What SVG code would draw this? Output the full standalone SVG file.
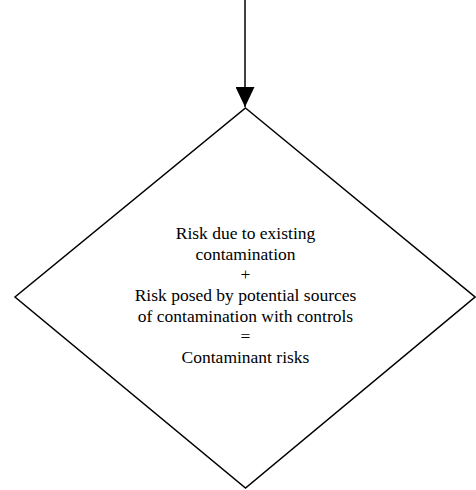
<svg xmlns="http://www.w3.org/2000/svg" width="476" height="490" viewBox="0 0 476 490">
<style>
.shape{fill:#fff;stroke:#000;stroke-width:1.5}
.lbl{font-family:"Liberation Serif","Times New Roman",serif;font-size:17.5px;fill:#000;text-anchor:middle}
.edge{stroke:#000;stroke-width:1.5;fill:none}
</style>
<defs>
<marker id="ah" markerWidth="20" markerHeight="19" refX="20" refY="9.5" orient="auto" markerUnits="userSpaceOnUse">
<path d="M0,0 L20,9.5 L0,19 Z" fill="#000"/>
</marker>
</defs>
<rect width="476" height="490" fill="#fff"/>
<g id="connectors">
<line class="edge" x1="245" y1="0" x2="245" y2="107" marker-end="url(#ah)"/>
</g>
<g id="decision">
<polygon class="shape" points="245.5,108 475,297 245.5,488 15,297"/>
<text class="lbl" x="245.5" y="239">Risk due to existing</text>
<text class="lbl" x="245.5" y="259.7">contamination</text>
<text class="lbl" x="245.5" y="280.3">+</text>
<text class="lbl" x="245.5" y="301">Risk posed by potential sources</text>
<text class="lbl" x="245.5" y="321.7">of contamination with controls</text>
<text class="lbl" x="245.5" y="342.3">=</text>
<text class="lbl" x="245.5" y="363">Contaminant risks</text>
</g>
</svg>
